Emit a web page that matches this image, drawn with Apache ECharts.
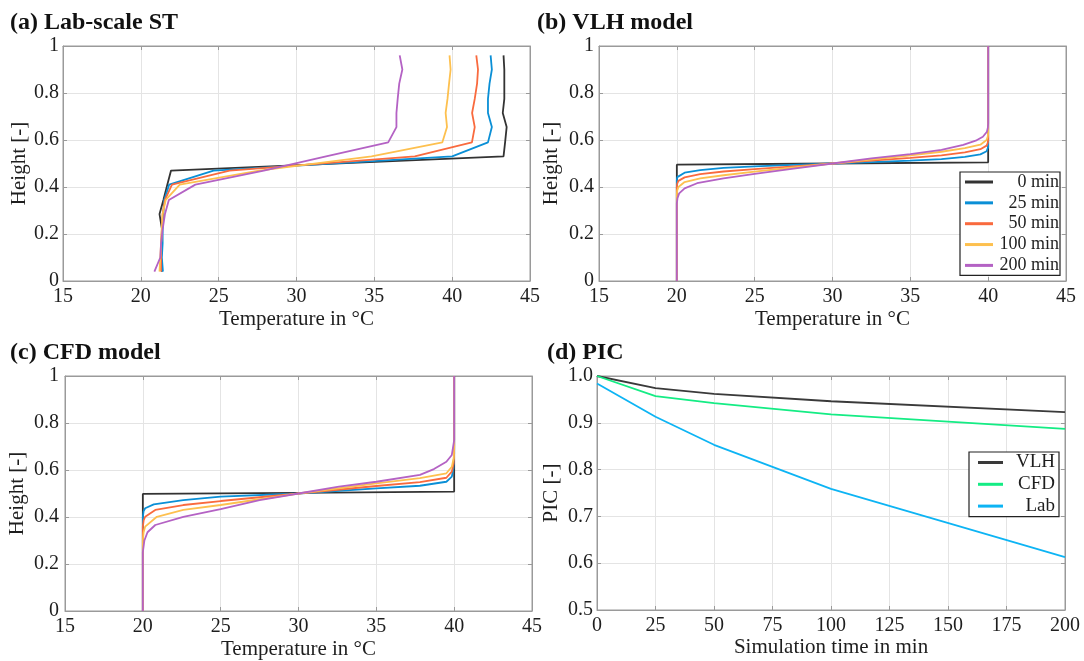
<!DOCTYPE html>
<html><head><meta charset="utf-8">
<script src="https://cdn.jsdelivr.net/npm/echarts@6.0.0/dist/echarts.min.js"></script>
<style>html,body{margin:0;padding:0;background:#fff}#c{width:1084px;height:661px}</style>
</head><body><div id="c"></div>
<script>
// ---------- data ----------
const panelTitles = ['(a) Lab-scale ST', '(b) VLH model', '(c) CFD model', '(d) PIC'];
const minuteLabels = ['0 min', '25 min', '50 min', '100 min', '200 min'];
const picLabels = ['VLH', 'CFD', 'Lab'];

// (a) lab-scale storage: sensor heights and temperatures per time
const labHeights = [0.04, 0.10, 0.16, 0.22, 0.285, 0.345, 0.41, 0.47, 0.53, 0.59, 0.655, 0.715, 0.775, 0.84, 0.90, 0.96];
const lab0   = [21.35, 21.3, 21.35, 21.36, 21.2, 21.45, 21.7, 21.94, 43.3, 43.4, 43.5, 43.25, 43.35, 43.35, 43.35, 43.3];
const lab25  = [21.42, 21.35, 21.4, 21.4, 21.45, 21.5, 21.82, 24.67, 40.0, 42.3, 42.55, 42.3, 42.3, 42.4, 42.55, 42.47];
const lab50  = [21.3, 21.3, 21.3, 21.35, 21.4, 21.55, 22.0, 25.7, 37.6, 41.27, 41.45, 41.28, 41.45, 41.6, 41.66, 41.55];
const lab100 = [21.2, 21.25, 21.3, 21.35, 21.4, 21.6, 22.5, 27.6, 34.82, 39.37, 39.67, 39.58, 39.7, 39.8, 39.9, 39.83];
const lab200 = [20.87, 21.25, 21.3, 21.4, 21.55, 21.8, 23.5, 27.9, 31.9, 35.89, 36.42, 36.42, 36.5, 36.6, 36.8, 36.63];

// (b) VLH model profiles [temperature, height]
const vlh0   = [[20,0],[20,0.495],[30,0.5],[40,0.505],[40,1]];
const vlh25  = [[20,0],[20,0.43],[20.03,0.442],[20.1,0.45],[20.5,0.461],[21.5,0.472],[23,0.481],[25,0.488],[27.5,0.494],[30,0.5],[32.5,0.506],[35,0.512],[37,0.519],[38.5,0.528],[39.5,0.539],[39.9,0.552],[39.97,0.56],[40,0.57],[40,1]];
const vlh50  = [[20,0],[20,0.40],[20.03,0.415],[20.1,0.426],[20.5,0.441],[21.5,0.455],[23,0.466],[25,0.476],[27.5,0.488],[30,0.5],[32.5,0.512],[35,0.524],[37,0.535],[38.5,0.547],[39.5,0.561],[39.9,0.576],[39.97,0.587],[40,0.60],[40,1]];
const vlh100 = [[20,0],[20,0.37],[20.03,0.386],[20.1,0.40],[20.5,0.421],[21.5,0.437],[23,0.45],[25,0.465],[27.5,0.483],[30,0.5],[32.5,0.517],[35,0.535],[37,0.55],[38.5,0.565],[39.5,0.58],[39.9,0.60],[39.97,0.614],[40,0.63],[40,1]];
const vlh200 = [[20,0],[20,0.33],[20.04,0.352],[20.15,0.373],[20.5,0.394],[21.3,0.416],[23,0.437],[25,0.456],[27.5,0.478],[30,0.5],[32.5,0.522],[35,0.54],[37,0.558],[38.4,0.579],[39.2,0.597],[39.66,0.614],[39.92,0.635],[39.98,0.652],[40,0.67],[40,1]];

// (c) CFD model profiles [temperature, height]
const cfd0   = [[20,0],[20,0.498],[30,0.503],[40,0.508],[40,1]];
const cfd25  = [[20,0],[20,0.40],[20.05,0.425],[20.15,0.437],[20.7,0.454],[22.6,0.472],[25,0.487],[30,0.5],[35,0.522],[37.8,0.533],[39.5,0.55],[39.85,0.572],[39.95,0.607],[40,0.67],[40,1]];
const cfd50  = [[20,0],[20,0.359],[20.05,0.385],[20.15,0.401],[20.8,0.43],[22.6,0.451],[25,0.468],[30,0.5],[35,0.532],[37.8,0.548],[39.5,0.567],[39.85,0.593],[39.97,0.63],[40,0.69],[40,1]];
const cfd100 = [[20,0],[20,0.30],[20.05,0.335],[20.15,0.359],[20.9,0.401],[22.6,0.43],[25,0.451],[30,0.5],[35,0.543],[37.8,0.565],[39.5,0.586],[39.85,0.614],[39.97,0.65],[40,0.70],[40,1]];
const cfd200 = [[20,0],[20,0.25],[20.1,0.30],[20.3,0.335],[20.8,0.366],[22.6,0.401],[25,0.434],[27.5,0.472],[30,0.5],[32.6,0.529],[35,0.55],[37.8,0.579],[38.7,0.604],[39.5,0.635],[39.85,0.664],[40,0.727],[40,1]];

// (d) PIC over simulation time
const picTime = [0, 25, 50, 100, 200];
const picVLH = [1.0, 0.974, 0.962, 0.946, 0.923];
const picCFD = [1.0, 0.957, 0.942, 0.918, 0.887];
const picLab = [0.984, 0.913, 0.853, 0.759, 0.613];

// ---------- styling ----------
const FONT = 'Liberation Serif';
const profileColors = ['#333333', '#0a8fd6', '#f96a3e', '#fdc04f', '#b462c4'];
const picColors = ['#3a3a3a', '#14ec84', '#0db4f4'];
const AX = '#9a9a9a';
const TXT = '#1e1e1e';

const grids = [
  {left: 63, top: 46, width: 467, height: 235},
  {left: 599, top: 46, width: 467, height: 235},
  {left: 65, top: 376, width: 467, height: 235},
  {left: 597, top: 376, width: 468, height: 234}
];

const xAxes = [], yAxes = [];
function addAxes(gi, xr, yr, xName, yName, xGap, yGap, yMargin, yFmt) {
  const lbl = {fontFamily: FONT, fontSize: 20, color: TXT};
  const nameStyle = {fontFamily: FONT, fontSize: 21, color: TXT};
  xAxes.push({gridIndex: gi, type: 'value', min: xr[0], max: xr[1], interval: xr[2], position: 'bottom',
    axisLine: {show: true, onZero: false, lineStyle: {color: AX, width: 1}},
    axisTick: {show: true, inside: true, length: 4, lineStyle: {color: AX}},
    axisLabel: Object.assign({margin: 6}, lbl),
    splitLine: {show: true, lineStyle: {color: '#e4e4e4', width: 1}},
    name: xName, nameLocation: 'middle', nameGap: xGap, nameTextStyle: nameStyle});
  xAxes.push({gridIndex: gi, type: 'value', min: xr[0], max: xr[1], interval: xr[2], position: 'top',
    axisLine: {show: true, onZero: false, lineStyle: {color: AX, width: 1}},
    axisTick: {show: true, inside: true, length: 4, lineStyle: {color: AX}},
    axisLabel: {show: false}, splitLine: {show: false}});
  yAxes.push({gridIndex: gi, type: 'value', min: yr[0], max: yr[1], interval: yr[2], position: 'left',
    axisLine: {show: true, onZero: false, lineStyle: {color: AX, width: 1}},
    axisTick: {show: true, inside: true, length: 4, lineStyle: {color: AX}},
    axisLabel: Object.assign({margin: yMargin, formatter: yFmt}, lbl),
    splitLine: {show: true, lineStyle: {color: '#e4e4e4', width: 1}},
    name: yName, nameLocation: 'middle', nameGap: yGap, nameTextStyle: nameStyle});
  yAxes.push({gridIndex: gi, type: 'value', min: yr[0], max: yr[1], interval: yr[2], position: 'right',
    axisLine: {show: true, onZero: false, lineStyle: {color: AX, width: 1}},
    axisTick: {show: true, inside: true, length: 4, lineStyle: {color: AX}},
    axisLabel: {show: false}, splitLine: {show: false}});
}
const hFmt = v => String(Math.round(v * 10) / 10);
const pFmt = v => v.toFixed(1);
addAxes(0, [15, 45, 5], [0, 1, 0.2], 'Temperature in °C', 'Height [-]', 28, 33, 4, hFmt);
addAxes(1, [15, 45, 5], [0, 1, 0.2], 'Temperature in °C', 'Height [-]', 28, 37, 5, hFmt);
addAxes(2, [15, 45, 5], [0, 1, 0.2], 'Temperature in °C', 'Height [-]', 28, 37, 6, hFmt);
addAxes(3, [0, 200, 25], [0.5, 1.0, 0.1], 'Simulation time in min', 'PIC [-]', 27, 35, 4, pFmt);

const series = [];
function lineSeries(gi, name, data, color) {
  return {type: 'line', name: name, xAxisIndex: gi * 2, yAxisIndex: gi * 2, data: data,
    showSymbol: false, symbol: 'none', color: color,
    lineStyle: {color: color, width: 1.8}, itemStyle: {color: color}, animation: false};
}
const labSets = [lab0, lab25, lab50, lab100, lab200];
labSets.forEach((arr, k) => series.push(lineSeries(0, minuteLabels[k], labHeights.map((h, j) => [arr[j], h]), profileColors[k])));
[vlh0, vlh25, vlh50, vlh100, vlh200].forEach((d, k) => series.push(lineSeries(1, minuteLabels[k], d, profileColors[k])));
[cfd0, cfd25, cfd50, cfd100, cfd200].forEach((d, k) => series.push(lineSeries(2, minuteLabels[k], d, profileColors[k])));
[picVLH, picCFD, picLab].forEach((arr, k) => series.push(lineSeries(3, picLabels[k], picTime.map((t, j) => [t, arr[j]]), picColors[k])));

const titleStyle = {fontFamily: FONT, fontSize: 24, fontWeight: 'bold', color: '#111'};
const titlePos = [[10, 11], [537, 11], [10, 341], [547, 341]];
const titles = panelTitles.map((t, k) => ({text: t, left: titlePos[k][0], top: titlePos[k][1], padding: 0, textStyle: titleStyle}));

const legends = [
  {data: minuteLabels, orient: 'vertical', left: 960, top: 172, padding: [1, 1, 1, 5], itemGap: 2.85,
   itemWidth: 28, itemHeight: 3, icon: 'rect', borderColor: '#222', borderWidth: 1.2, backgroundColor: '#fff',
   selectedMode: false,
   formatter: n => '{a|' + n + '}',
   textStyle: {fontFamily: FONT, fontSize: 18, color: TXT, rich: {a: {width: 61, align: 'right', fontFamily: FONT, fontSize: 18, lineHeight: 18, color: TXT}}}},
  {data: picLabels, orient: 'vertical', left: 969, top: 452, padding: [1, 4, 1, 9], itemGap: 2.8,
   itemWidth: 25, itemHeight: 3, icon: 'rect', borderColor: '#222', borderWidth: 1.2, backgroundColor: '#fff',
   selectedMode: false,
   formatter: n => '{a|' + n + '}',
   textStyle: {fontFamily: FONT, fontSize: 19, color: TXT, rich: {a: {width: 47, align: 'right', fontFamily: FONT, fontSize: 19, lineHeight: 18, color: TXT}}}}
];

const chart = echarts.init(document.getElementById('c'), null, {renderer: 'canvas'});
chart.setOption({
  animation: false,
  backgroundColor: '#fff',
  title: titles,
  legend: legends,
  grid: grids.map(g => Object.assign({show: true, borderColor: AX, borderWidth: 1, backgroundColor: '#fff'}, g)),
  xAxis: xAxes,
  yAxis: yAxes,
  series: series
});
</script>
</body></html>
